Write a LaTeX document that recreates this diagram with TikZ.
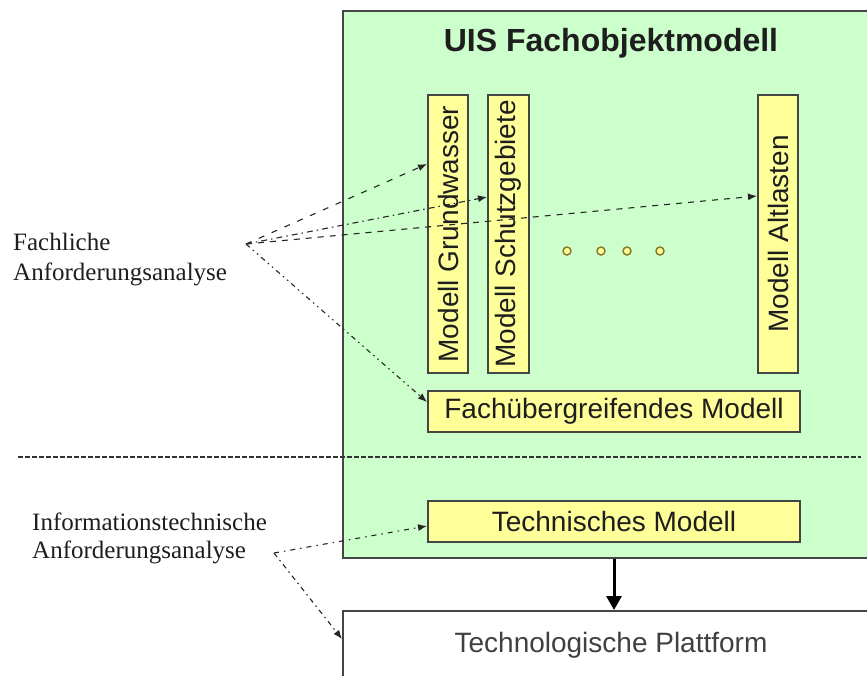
\documentclass[tikz,border=0pt]{standalone}
\usepackage{fontspec}
\setmainfont{Liberation Serif}
\setsansfont{Liberation Sans}
\usepackage{graphicx}
\usetikzlibrary{arrows.meta,calc}
\definecolor{paleGreen}{HTML}{CCFFCC}
\definecolor{paleYellow}{HTML}{FFFF99}
\definecolor{frameGray}{HTML}{454545}
\definecolor{inkGray}{HTML}{1E1E1E}
\definecolor{dotOlive}{HTML}{8A7A2A}

\tikzset{
  greenpanel/.style={draw=frameGray, line width=2pt, fill=paleGreen, inner sep=0pt},
  modelbox/.style={draw=frameGray, line width=2pt, fill=paleYellow, inner sep=0pt,
    text=inkGray, font=\sffamily\fontsize{28}{34}\selectfont},
  platformbox/.style={draw=frameGray, line width=2pt, fill=white, inner sep=0pt,
    text=black!75, font=\sffamily\fontsize{28}{34}\selectfont},
  sidelabel/.style={align=left, inner sep=0pt, anchor=north west, text=inkGray},
  reqline/.style={line width=1.1pt, draw=black!85, -{Latex[length=9pt,width=7pt]}},
  bigarrow/.style={line width=3pt, draw=black, -{Triangle[length=14pt,width=15pt]}},
  moredots/.style={circle, draw=dotOlive, line width=1.5pt,
    fill=paleYellow, minimum size=8pt, inner sep=0pt},
}

\begin{document}
\begin{tikzpicture}[x=1pt,y=-1pt]
\useasboundingbox (0,0) rectangle (867,675);
\clip (0,0) rectangle (867,675);

% container of the domain models
\node[greenpanel, minimum width=540pt, minimum height=547pt, anchor=north west]
  (panel) at (342,10) {};
\node[text=inkGray, font=\sffamily\bfseries\fontsize{32}{38}\selectfont, inner sep=0pt]
  (title) at (611,43) {UIS Fachobjektmodell};

% vertical domain models
\node[modelbox, minimum width=40pt, minimum height=278pt] (gw) at (448,234)
  {\rotatebox{90}{Modell Grundwasser}};
\node[modelbox, minimum width=41pt, minimum height=278pt] (sg) at (508.5,234)
  {\rotatebox{90}{Modell Schutzgebiete}};
\node[modelbox, minimum width=40pt, minimum height=278pt] (al) at (778,234)
  {\rotatebox{90}{Modell Altlasten}};

% further models
\node[moredots] (d1) at (567,251) {};
\node[moredots] (d2) at (601,251) {};
\node[moredots] (d3) at (627,251) {};
\node[moredots] (d4) at (660,251) {};

% horizontal models
\node[modelbox, minimum width=372pt, minimum height=41pt] (fu) at (614,411.5)
  {Fachübergreifendes Modell};
\node[modelbox, minimum width=372pt, minimum height=41pt] (tm) at (614,521.5)
  {Technisches Modell};

% platform
\node[platformbox, minimum width=536pt, minimum height=68pt, anchor=north west]
  (pf) at (342,610) {Technologische Plattform};

% separator between the two analysis levels
\coordinate (sepL) at (18,457);
\coordinate (sepR) at (861,457);
\draw[line width=1.1pt, black!80, dash pattern=on 5pt off 2pt] (sepL) -- (sepR);

% analysis labels
\node[sidelabel, font=\rmfamily\fontsize{25}{30}\selectfont] (fach) at (13,233)
  {Fachliche\\Anforderungsanalyse};
\node[sidelabel, font=\rmfamily\fontsize{25}{28}\selectfont] (info) at (32,513)
  {Informationstechnische\\Anforderungsanalyse};
\coordinate (fsrc) at (246,244);
\coordinate (isrc) at (274,553);

% requirement connectors
\draw[reqline, dash pattern=on 6pt off 8pt] (fsrc) -- ($(gw.north west)+(0,70)$);
\draw[reqline, dash pattern=on 6pt off 4pt on 1.5pt off 4pt] (fsrc) -- ($(sg.north west)+(0,103)$);
\draw[reqline, dash pattern=on 6pt off 6pt] (fsrc) -- ($(al.north west)+(0,102)$);
\draw[reqline, dash pattern=on 5pt off 4pt on 1.5pt off 4pt on 1.5pt off 4pt] (fsrc) -- ($(fu.north west)+(0,12)$);
\draw[reqline, dash pattern=on 5pt off 5pt on 1.5pt off 5pt] (isrc) -- ($(tm.north west)+(0,26)$);
\draw[reqline, dash pattern=on 5pt off 4pt on 1.5pt off 4pt] (isrc) -- ($(pf.north west)+(0,29)$);

% realisation on the platform
\draw[bigarrow] ($(panel.south west)+(272,0)$) -- ($(pf.north west)+(272,0)$);
\end{tikzpicture}
\end{document}
